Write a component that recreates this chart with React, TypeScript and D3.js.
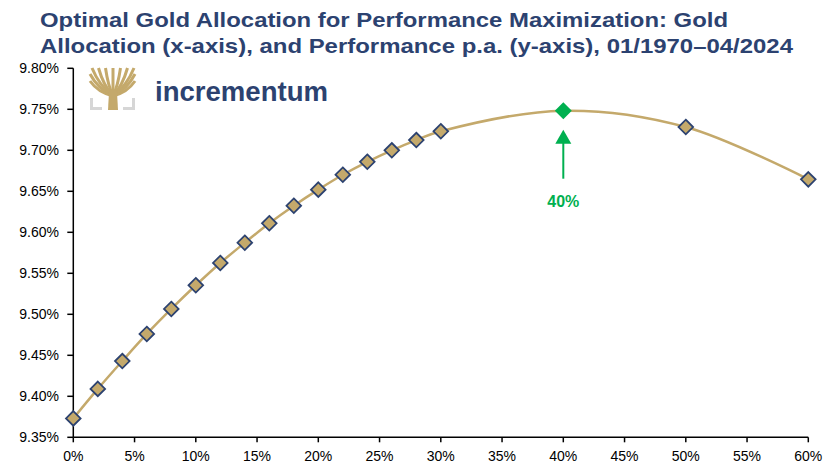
import React from "react";
import * as d3 from "d3";

const allocations = [0, 2, 4, 6, 8, 10, 12, 14, 16, 18, 20, 22, 24, 26, 28, 30, 40, 50, 60];
const performance = [
  9.373, 9.409, 9.443, 9.476, 9.5065, 9.5354, 9.5626, 9.5873, 9.611, 9.6324,
  9.652, 9.6702, 9.686, 9.7, 9.7125, 9.7232, 9.7483, 9.7284, 9.6646,
];
const optimalAllocation = 40;
const xTicks = [0, 5, 10, 15, 20, 25, 30, 35, 40, 45, 50, 55, 60];
const yTicks = [9.35, 9.4, 9.45, 9.5, 9.55, 9.6, 9.65, 9.7, 9.75, 9.8];
const titleLines = [
  "Optimal Gold Allocation for Performance Maximization: Gold",
  "Allocation (x-axis), and Performance p.a. (y-axis), 01/1970\u201304/2024",
];

const W = 835;
const H = 464;
const NAVY = "#2c4270";
const GOLD = "#c4a96b";
const GREEN = "#00b050";
const FONT = "'Liberation Sans', Arial, sans-serif";

const branchEnds: [number, number][] = [
  [90, 74], [90, 81], [92, 68], [98.5, 68], [105.5, 68], [113, 68],
  [120.5, 68], [127.5, 68], [134, 68], [135, 74], [135, 81],
];

export default function App() {
  const x = d3.scaleLinear().domain([0, 60]).range([73.3, 808.3]);
  const y = d3.scaleLinear().domain([9.35, 9.8]).range([437.3, 68.3]);
  const data = allocations.map((a, i) => ({ a, v: performance[i] }));
  const line = d3
    .line<{ a: number; v: number }>()
    .x((d) => x(d.a))
    .y((d) => y(d.v))
    .curve(d3.curveCatmullRom.alpha(0.5));

  const optIdx = allocations.indexOf(optimalAllocation);
  const ox = x(optimalAllocation);
  const oy = y(performance[optIdx]);
  const diamond = (cx: number, cy: number, r: number) =>
    `M${cx},${cy - r}L${cx + r},${cy}L${cx},${cy + r}L${cx - r},${cy}Z`;

  return (
    <svg
      width={W}
      height={H}
      style={{ position: "absolute", left: 0, top: 0, background: "#fff" }}
      fontFamily={FONT}
    >
      <rect width={W} height={H} fill="#fff" />
      {titleLines.map((t, i) => (
        <text
          key={i}
          x={40}
          y={26.5 + i * 26}
          fontSize={21}
          fontWeight="bold"
          fill={NAVY}
          textLength={i === 0 ? 688 : 753}
          lengthAdjust="spacingAndGlyphs"
        >
          {t}
        </text>
      ))}

      {/* logo */}
      <g>
        <path d="M90,98 L90,110 L102,110 L102,107 L93,107 L93,98 Z" fill="#d6d6d6" />
        <path d="M135,98 L135,110 L123,110 L123,107 L132,107 L132,98 Z" fill="#d6d6d6" />
        {branchEnds.map(([bx, by], i) => (
          <path
            key={i}
            d={`M113,96 Q${(113 + bx) / 2 + (bx - 113) * 0.15},${(96 + by) / 2 + 4} ${bx},${by}`}
            fill="none"
            stroke={GOLD}
            strokeWidth={3}
          />
        ))}
        <path d="M108,110 L109,92 Q113,86 117,92 L118,110 Z" fill={GOLD} />
        <text x={155} y={101} fontSize={27.5} fontWeight="bold" fill={NAVY} textLength={173} lengthAdjust="spacingAndGlyphs">
          incrementum
        </text>
      </g>

      {/* axes */}
      <line x1={x(0)} x2={x(60)} y1={y(9.35)} y2={y(9.35)} stroke="#000" strokeWidth={1.5} />
      <line x1={x(0)} x2={x(0)} y1={y(9.35)} y2={y(9.8)} stroke="#000" strokeWidth={1.5} />
      {yTicks.map((t) => (
        <g key={t}>
          <line x1={x(0) - 6} x2={x(0)} y1={y(t)} y2={y(t)} stroke="#000" strokeWidth={1.5} />
          <text x={59} y={y(t)} dy="0.35em" fontSize={14} textAnchor="end" fill="#000">
            {t.toFixed(2)}%
          </text>
        </g>
      ))}
      {xTicks.map((t) => (
        <g key={t}>
          <line x1={x(t)} x2={x(t)} y1={y(9.35)} y2={y(9.35) + 5} stroke="#000" strokeWidth={1.5} />
          <text x={x(t)} y={461} fontSize={14} textAnchor="middle" fill="#000">
            {t}%
          </text>
        </g>
      ))}

      {/* line */}
      <path d={line(data) || ""} fill="none" stroke={GOLD} strokeWidth={2.5} />

      {/* markers */}
      {data.map((d, i) =>
        i === optIdx ? null : (
          <path
            key={i}
            d={diamond(x(d.a), y(d.v), 7.3)}
            fill={GOLD}
            stroke={NAVY}
            strokeWidth={1.8}
          />
        )
      )}
      <path d={diamond(ox, oy, 8.5)} fill={GREEN} />

      {/* arrow */}
      <line x1={ox} x2={ox} y1={oy + 68} y2={oy + 30} stroke={GREEN} strokeWidth={2} />
      <path d={`M${ox},${oy + 19}L${ox + 8},${oy + 33}L${ox - 8},${oy + 33}Z`} fill={GREEN} />
      <text x={ox} y={oy + 96} fontSize={16} fontWeight="bold" fill={GREEN} textAnchor="middle">
        40%
      </text>
    </svg>
  );
}
